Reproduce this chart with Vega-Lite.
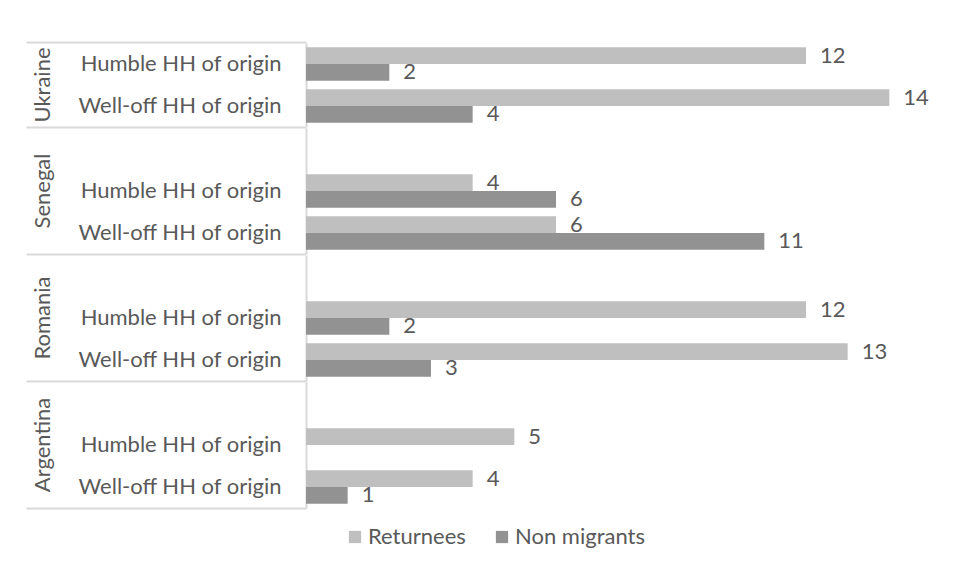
{
  "$schema": "https://vega.github.io/schema/vega-lite/v6.json",
  "padding": {"left": 25, "top": 41, "right": 5, "bottom": 5},
  "background": "white",
  "data": {
    "values": [
      {"country": "Ukraine", "hh": "Humble HH of origin", "group": "Returnees", "n": 12},
      {"country": "Ukraine", "hh": "Humble HH of origin", "group": "Non migrants", "n": 2},
      {"country": "Ukraine", "hh": "Well-off HH of origin", "group": "Returnees", "n": 14},
      {"country": "Ukraine", "hh": "Well-off HH of origin", "group": "Non migrants", "n": 4},
      {"country": "Senegal", "hh": " "},
      {"country": "Senegal", "hh": "Humble HH of origin", "group": "Returnees", "n": 4},
      {"country": "Senegal", "hh": "Humble HH of origin", "group": "Non migrants", "n": 6},
      {"country": "Senegal", "hh": "Well-off HH of origin", "group": "Returnees", "n": 6},
      {"country": "Senegal", "hh": "Well-off HH of origin", "group": "Non migrants", "n": 11},
      {"country": "Romania", "hh": " "},
      {"country": "Romania", "hh": "Humble HH of origin", "group": "Returnees", "n": 12},
      {"country": "Romania", "hh": "Humble HH of origin", "group": "Non migrants", "n": 2},
      {"country": "Romania", "hh": "Well-off HH of origin", "group": "Returnees", "n": 13},
      {"country": "Romania", "hh": "Well-off HH of origin", "group": "Non migrants", "n": 3},
      {"country": "Argentina", "hh": " "},
      {"country": "Argentina", "hh": "Humble HH of origin", "group": "Returnees", "n": 5},
      {"country": "Argentina", "hh": "Well-off HH of origin", "group": "Returnees", "n": 4},
      {"country": "Argentina", "hh": "Well-off HH of origin", "group": "Non migrants", "n": 1}
    ]
  },
  "facet": {
    "row": {
      "field": "country",
      "type": "nominal",
      "title": null,
      "sort": ["Ukraine", "Senegal", "Romania", "Argentina"],
      "header": {
        "labelAngle": -90,
        "labelOrient": "left",
        "labelPadding": -40,
        "labelFont": "Lato",
        "labelFontSize": 22,
        "labelColor": "#595959"
      }
    }
  },
  "spacing": 0,
  "resolve": {"scale": {"y": "independent", "yOffset": "independent"}},
  "spec": {
    "width": 625,
    "height": {"step": 42, "for": "position"},
    "resolve": {"axis": {"y": "independent"}},
    "layer": [
      {
        "transform": [{"filter": "isValid(datum.n)"}],
        "mark": {"type": "bar"},
        "encoding": {
          "y": {
            "field": "hh",
            "type": "nominal",
            "sort": [" ", "Humble HH of origin", "Well-off HH of origin"],
            "scale": {"paddingInner": 0.2, "paddingOuter": 0.1},
            "axis": {
              "orient": "left",
              "title": null,
              "ticks": false,
              "tickSize": 0,
              "labelPadding": 25,
              "labelFont": "Lato",
              "labelFontSize": 22,
              "labelColor": "#595959",
              "labelLimit": 400,
              "domainColor": "#D9D9D9",
              "domainWidth": 2
            }
          },
          "yOffset": {
            "field": "group",
            "type": "nominal",
            "sort": ["Returnees", "Non migrants"],
            "scale": {"domain": ["Returnees", "Non migrants"], "paddingInner": 0, "paddingOuter": 0}
          },
          "x": {
            "field": "n",
            "type": "quantitative",
            "scale": {"domain": [0, 15], "nice": false},
            "axis": null
          },
          "color": {
            "field": "group",
            "type": "nominal",
            "sort": ["Returnees", "Non migrants"],
            "scale": {"domain": ["Returnees", "Non migrants"], "range": ["#BFBFBF", "#929292"]},
            "legend": {
              "orient": "none",
              "legendX": 38,
              "legendY": 483,
              "direction": "horizontal",
              "title": null,
              "symbolType": "square",
              "symbolSize": 150,
              "symbolStrokeWidth": 0,
              "labelFont": "Lato",
              "labelFontSize": 22,
              "labelColor": "#595959",
              "labelOffset": 2,
              "columnPadding": 25
            }
          }
        }
      },
      {
        "transform": [{"filter": "isValid(datum.n)"}],
        "mark": {"type": "text", "align": "left", "baseline": "middle", "dx": 14, "font": "Lato", "fontSize": 22, "color": "#595959"},
        "encoding": {
          "y": {
            "field": "hh",
            "type": "nominal",
            "sort": [" ", "Humble HH of origin", "Well-off HH of origin"],
            "axis": {
              "orient": "left",
              "title": null,
              "labels": false,
              "domain": false,
              "bandPosition": -0.125,
              "tickSize": 280,
              "tickWidth": 2,
              "tickColor": "#D9D9D9",
              "tickOpacity": {"condition": {"test": "datum.value == 'Humble HH of origin' && datum.index == 0", "value": 1}, "value": 0}
            }
          },
          "yOffset": {"field": "group", "type": "nominal", "sort": ["Returnees", "Non migrants"]},
          "x": {"field": "n", "type": "quantitative"},
          "text": {"field": "n", "type": "quantitative"}
        }
      },
      {
        "mark": {"type": "text"},
        "encoding": {
          "y": {
            "field": "hh",
            "type": "nominal",
            "sort": [" ", "Humble HH of origin", "Well-off HH of origin"],
            "axis": {
              "orient": "left",
              "title": null,
              "labels": false,
              "domain": false,
              "bandPosition": 1.125,
              "tickSize": 280,
              "tickWidth": 2,
              "tickColor": "#D9D9D9",
              "tickOpacity": {"condition": {"test": "datum.value == 'Well-off HH of origin'", "value": 1}, "value": 0}
            }
          },
          "text": {"value": ""}
        }
      }
    ]
  },
  "config": {
    "view": {"stroke": null},
    "font": "Lato"
  }
}
